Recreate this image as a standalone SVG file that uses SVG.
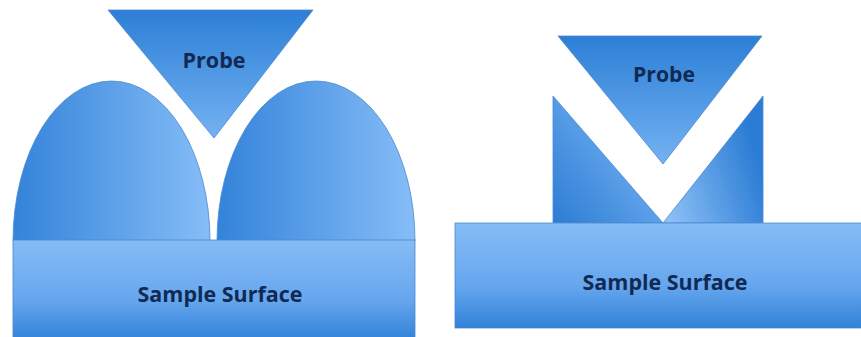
<svg xmlns="http://www.w3.org/2000/svg" width="861" height="337" viewBox="0 0 861 337">
  <defs>
    <linearGradient id="gSurface" x1="0" y1="0" x2="0" y2="1">
      <stop offset="0" stop-color="#86bcf6"/>
      <stop offset="0.6" stop-color="#66a6ee"/>
      <stop offset="1" stop-color="#3182d9"/>
    </linearGradient>
    <linearGradient id="gProbe" x1="0" y1="0" x2="0" y2="1">
      <stop offset="0" stop-color="#2c7fd6"/>
      <stop offset="1" stop-color="#74b2f2"/>
    </linearGradient>
    <linearGradient id="gBump" x1="0" y1="0" x2="1" y2="0">
      <stop offset="0" stop-color="#3383da"/>
      <stop offset="1" stop-color="#86bdf7"/>
    </linearGradient>
    <linearGradient id="gWedgeL" x1="0" y1="1" x2="0.9" y2="0.2">
      <stop offset="0" stop-color="#2c7cd4"/>
      <stop offset="1" stop-color="#7ab6f4"/>
    </linearGradient>
    <linearGradient id="gWedgeR" x1="0" y1="1" x2="1" y2="0.6">
      <stop offset="0" stop-color="#92c4f8"/>
      <stop offset="1" stop-color="#2a7cd4"/>
    </linearGradient>
    <style>
      .shape { stroke: #4a88cf; stroke-width: 0.8; }
      .label { font-family: "Open Sans", "Liberation Sans", sans-serif; font-weight: 700; fill: #112a54; text-anchor: middle; }
    </style>
  </defs>

  <rect width="861" height="337" fill="#ffffff"/>

  <!-- Left: probe between two rounded asperities -->
  <g id="left-bump-1">
    <path class="shape" fill="url(#gBump)" d="M13,241 A98.5,160 0 0 1 210,241 Z"/>
  </g>
  <g id="left-bump-2">
    <path class="shape" fill="url(#gBump)" d="M217,241 A99,160 0 0 1 415,241 Z"/>
  </g>
  <g id="left-probe">
    <polygon class="shape" fill="url(#gProbe)" points="108,10 313,10 214,138"/>
    <text class="label" x="214" y="68" font-size="21" textLength="63" lengthAdjust="spacingAndGlyphs">Probe</text>
  </g>
  <g id="left-surface">
    <rect class="shape" fill="url(#gSurface)" x="13" y="240" width="402" height="100"/>
    <text class="label" x="220" y="302" font-size="21" textLength="165" lengthAdjust="spacingAndGlyphs">Sample Surface</text>
  </g>

  <!-- Right: probe inside a V-shaped groove -->
  <g id="right-block">
    <polygon class="shape" fill="url(#gWedgeL)" points="553,96 663,223 553,223"/>
    <polygon class="shape" fill="url(#gWedgeR)" points="763,96 763,223 663,223"/>
  </g>
  <g id="right-probe">
    <polygon class="shape" fill="url(#gProbe)" points="558,36 762,36 663,164"/>
    <text class="label" x="664" y="82" font-size="21" textLength="62" lengthAdjust="spacingAndGlyphs">Probe</text>
  </g>
  <g id="right-surface">
    <rect class="shape" fill="url(#gSurface)" x="455" y="223" width="410" height="105"/>
    <text class="label" x="665" y="290" font-size="21" textLength="165" lengthAdjust="spacingAndGlyphs">Sample Surface</text>
  </g>

  <g id="connectors"/>
</svg>
